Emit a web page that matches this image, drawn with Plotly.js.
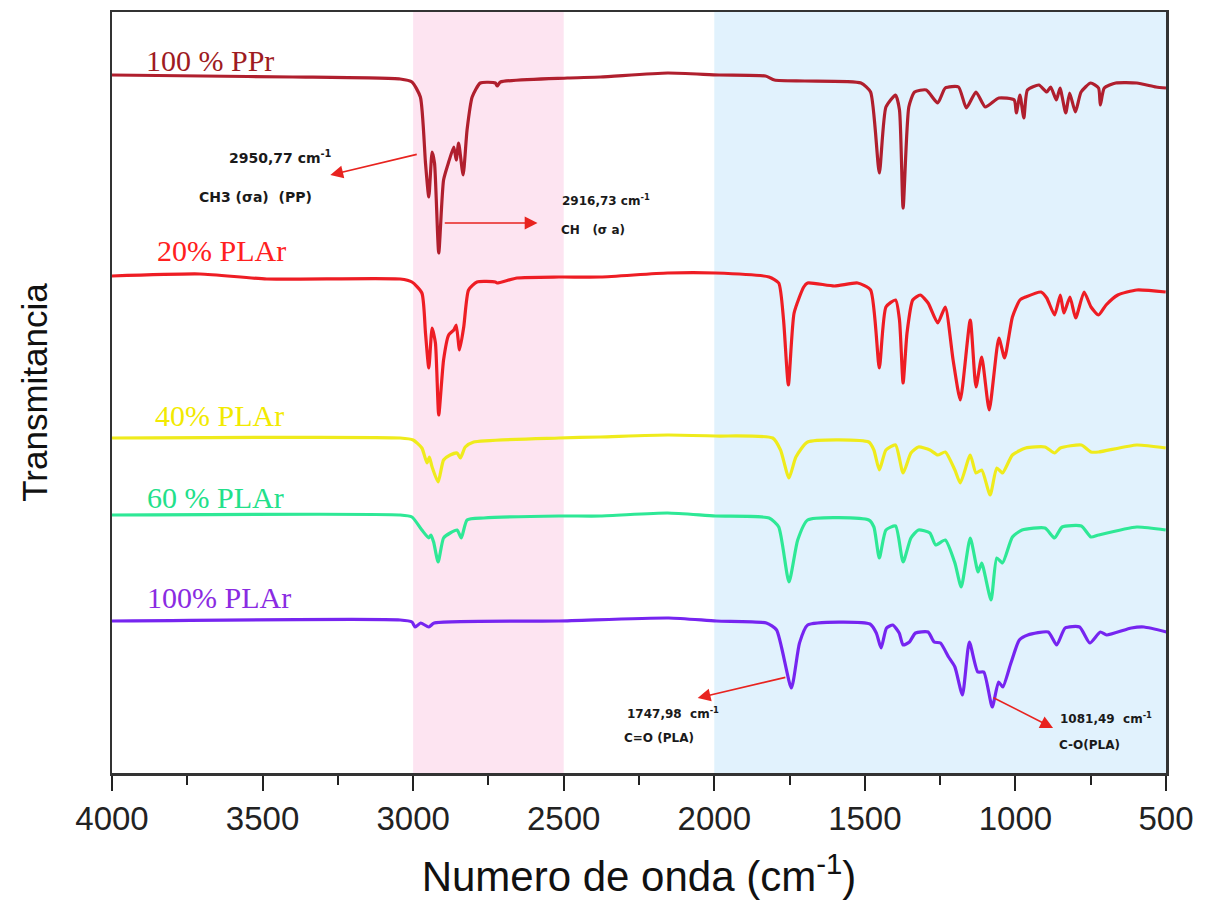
<!DOCTYPE html>
<html>
<head>
<meta charset="utf-8">
<script src="https://cdn.plot.ly/plotly-3.0.1.min.js"></script>
<style>html,body{margin:0;padding:0;background:#fff;}#chart{width:1205px;height:904px;}</style>
</head>
<body>
<div id="chart"></div>
<script>
// ---- Data (wavenumber in cm^-1, transmittance in stacked arbitrary units) ----
const seriesNames = ["100 % PPr", "20% PLAr", "40% PLAr", "60 % PLAr", "100% PLAr"];
const seriesColors = ["#b01f2e", "#ee1d24", "#efeb1c", "#2ee896", "#7625f0"];
const labelColors = ["#9e1b22", "#ff2020", "#f2ea00", "#22e08a", "#8a2be2"];

const ppWn = [4000,3700,3400,3043,3004,2976,2959,2948,2937,2929,2915,2899,2882,2865,2857,2849,2834,2821,2804,2777,2727,2721,2710,2488,2378,2155,1984,1830,1800,1700,1513,1481,1452,1430,1398,1385,1373,1354,1335,1296,1258,1233,1189,1163,1131,1100,1055,1004,997,985,972,960,922,896,883,864,852,833,820,801,782,750,724,718,705,667,597,533,500];
const ppT  = [698,697,696,694,691,676,610,576,621,610,520,593,611,626,613,630,598,643,676,690,690,687,691,695,696,700,698,697,693,692,690,681,600,666,678,663,565,666,681,683,670,685,686,665,681,666,675,673,660,678,655,683,688,681,686,673,685,660,680,661,681,690,685,668,685,690,690,686,685];

const pla20Wn = [4000,3708,3486,3043,3004,2971,2959,2948,2937,2926,2915,2899,2882,2865,2857,2846,2832,2816,2788,2727,2721,2655,2516,2378,2155,1996,1818,1786,1770,1754,1735,1703,1690,1601,1524,1481,1452,1430,1398,1385,1373,1360,1341,1316,1290,1258,1233,1207,1183,1150,1131,1112,1087,1055,1036,1010,985,966,915,896,870,851,839,819,800,772,749,724,699,660,597,501];
const pla20T  = [497,499,494,494,491,480,440,405,445,430,358,413,438,443,448,423,446,483,491,491,490,495,496,496,500,500,496,490,453,388,460,486,490,487,490,483,405,466,473,453,390,440,473,478,470,450,466,413,373,453,386,416,363,435,415,456,473,476,481,475,458,478,460,476,455,481,466,458,468,478,483,481];

const pla40Wn = [4000,3043,3000,2971,2954,2946,2937,2917,2899,2877,2854,2843,2827,2799,2516,2378,2155,1996,1806,1780,1752,1729,1690,1487,1470,1452,1430,1398,1373,1347,1322,1284,1258,1233,1201,1183,1150,1131,1112,1084,1062,1043,1010,966,902,870,851,781,749,724,597,501];
const pla40T  = [335,335,333,325,310,316,306,291,313,318,320,315,326,331,335,336,338,337,335,323,295,316,331,331,323,303,323,328,300,320,326,323,318,321,303,290,318,300,303,278,305,300,318,325,326,320,325,328,321,321,328,325];

const pla60Wn = [4000,3043,3004,2971,2948,2941,2932,2917,2899,2877,2854,2840,2821,2766,2516,2378,2155,1996,1818,1786,1752,1723,1690,1487,1470,1452,1430,1398,1373,1347,1322,1284,1265,1233,1201,1180,1150,1124,1112,1081,1062,1043,1010,978,902,870,845,781,749,724,597,501];
const pla60T  = [258,258,256,243,235,238,231,211,235,240,243,235,253,255,257,257,260,257,255,246,191,233,253,253,246,215,243,247,211,235,243,240,228,233,210,186,235,201,210,173,215,210,236,243,245,235,246,247,236,238,246,243];

const pla100Wn = [4000,3043,3004,2993,2975,2948,2930,2516,2151,1993,1827,1793,1744,1717,1690,1483,1462,1446,1428,1407,1386,1373,1352,1332,1290,1270,1249,1222,1201,1176,1153,1125,1105,1077,1056,1042,1015,987,959,891,863,835,787,753,718,697,615,573,497];
const pla100T  = [152,153,151,146,150,146,150,152,155,152,150,143,85,130,148,149,140,125,145,148,140,128,131,140,141,131,130,116,106,78,131,101,101,66,91,86,110,133,138,141,128,145,146,130,141,138,145,146,141];

const seriesWn = [ppWn, pla20Wn, pla40Wn, pla60Wn, pla100Wn];
const seriesT  = [ppT, pla20T, pla40T, pla60T, pla100T];

// shaded regions (cm^-1)
const bandRanges = [[3000, 2500], [2000, 500]];
const bandColors = ["#fde4f1", "#e1f2fd"];

// x axis ticks
const xTickVals = [4000, 3500, 3000, 2500, 2000, 1500, 1000, 500];
const xTickText = ["4000", "3500", "3000", "2500", "2000", "1500", "1000", "500"];

// peak annotations
const peakLabels = ["2950,77 cm<sup>-1</sup>", "2916,73 cm<sup>-1</sup>", "1747,98  cm<sup>-1</sup>", "1081,49  cm<sup>-1</sup>"];
const peakGroups = ["CH3 (σa)  (PP)", "CH   (σ a)", "C=O (PLA)", "C-O(PLA)"];

// ---- Traces ----
const traces = seriesNames.map((n, i) => ({
  type: "scatter", mode: "lines", name: n,
  x: seriesWn[i], y: seriesT[i],
  line: {color: seriesColors[i], width: 3.2, shape: "spline", smoothing: 0.55},
  hoverinfo: "skip", showlegend: false
}));

// ---- Shapes ----
const shapes = bandRanges.map((b, i) => ({
  type: "rect", xref: "x", yref: "paper", x0: b[0], x1: b[1], y0: 0, y1: 1,
  fillcolor: bandColors[i], line: {width: 0}, layer: "below"
}));

// ---- Annotations ----
const labelPos = [[3894, 713], [3857, 523], [3864, 358], [3890, 276], [3890, 176]];
const annotations = seriesNames.map((n, i) => ({
  xref: "x", yref: "y", x: labelPos[i][0], y: labelPos[i][1], xanchor: "left", yanchor: "middle",
  text: n, showarrow: false,
  font: {family: "Liberation Serif, Times New Roman, serif", size: 30, color: labelColors[i]}
}));

const txtFont = (s) => ({family: "DejaVu Sans, Arial, sans-serif", size: s, color: "#1a1a1a", weight: "bold"});
const peakText = [
  [3618, 616, 14, peakLabels[0]], [3717, 576, 14, peakGroups[0]],
  [2511, 573, 12, peakLabels[1]], [2517, 543, 12, peakGroups[1]],
  [2295, 60, 12, peakLabels[2]], [2305, 35, 12, peakGroups[2]],
  [858, 55, 12, peakLabels[3]], [862, 28, 12, peakGroups[3]]
];
peakText.forEach(p => annotations.push({
  xref: "x", yref: "y", x: p[0], y: p[1], xanchor: "left", yanchor: "middle",
  text: "<b>" + p[3] + "</b>", showarrow: false, font: txtFont(p[2])
}));

// arrows: [headX, headY, tailX, tailY]
const arrows = [[3275, 598, 2983, 619], [2587, 550, 2900, 550], [2055, 75, 1759, 96], [875, 45, 1078, 76]];
arrows.forEach(a => annotations.push({
  xref: "x", yref: "y", axref: "x", ayref: "y",
  x: a[0], y: a[1], ax: a[2], ay: a[3], text: "",
  showarrow: true, arrowhead: 2, arrowsize: 1.6, arrowwidth: 1.6, arrowcolor: "#e8231f", standoff: 0, startstandoff: 0
}));

const layout = {
  width: 1205, height: 904,
  margin: {l: 112, r: 39, t: 12, b: 131},
  paper_bgcolor: "#ffffff", plot_bgcolor: "#ffffff",
  showlegend: false,
  xaxis: {
    range: [4000, 500], tickvals: xTickVals, ticktext: xTickText,
    ticks: "outside", ticklen: 15, tickwidth: 2, tickcolor: "#222",
    minor: {dtick: 250, tick0: 500, ticks: "outside", ticklen: 9, tickwidth: 2, tickcolor: "#222"},
    showline: true, linewidth: 2.5, linecolor: "#333", mirror: true,
    showgrid: false, zeroline: false,
    tickfont: {family: "Liberation Sans, Arial, sans-serif", size: 33, color: "#222"},
    title: {text: "Numero de onda (cm<sup>-1</sup>)", font: {family: "Liberation Sans, Arial, sans-serif", size: 42, color: "#111"}, standoff: 26}
  },
  yaxis: {
    range: [0, 761], showticklabels: false, ticks: "",
    showline: true, linewidth: 2.5, linecolor: "#333", mirror: true,
    showgrid: false, zeroline: false,
    title: {text: "Transmitancia", font: {family: "Liberation Sans, Arial, sans-serif", size: 35, color: "#111"}, standoff: 52}
  },
  shapes: shapes,
  annotations: annotations
};

Plotly.newPlot("chart", traces, layout, {displayModeBar: false, staticPlot: true});
</script>
</body>
</html>
